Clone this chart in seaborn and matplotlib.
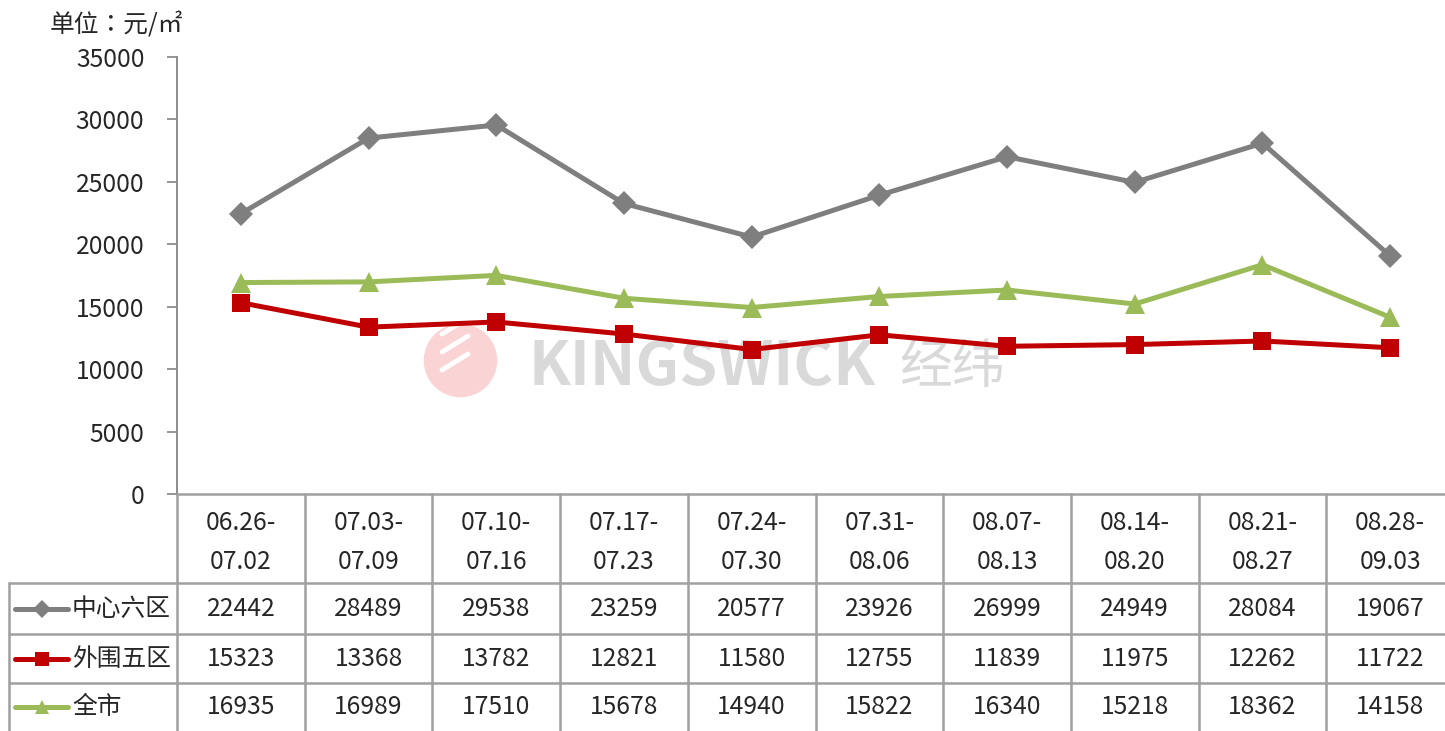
import matplotlib
matplotlib.use("Agg")
import matplotlib.pyplot as plt
import seaborn as sns
import pandas as pd
from matplotlib.lines import Line2D

# data
periods = ["06.26-07.02", "07.03-07.09", "07.10-07.16", "07.17-07.23", "07.24-07.30",
           "07.31-08.06", "08.07-08.13", "08.14-08.20", "08.21-08.27", "08.28-09.03"]
center6 = [22442, 28489, 29538, 23259, 20577, 23926, 26999, 24949, 28084, 19067]
outer5 = [15323, 13368, 13782, 12821, 11580, 12755, 11839, 11975, 12262, 11722]
city = [16935, 16989, 17510, 15678, 14940, 15822, 16340, 15218, 18362, 14158]
series_names = ["中心六区", "外围五区", "全市"]
yticks = [0, 5000, 10000, 15000, 20000, 25000, 30000, 35000]

colors = ["#7F7F7F", "#C00000", "#9BBB59"]
markers = ["D", "s", "^"]
msizes = [12, 13, 14]

sns.set_style("white")
plt.rcParams["font.family"] = ["Noto Sans CJK SC", "DejaVu Sans"]
FS = 17.8

fig = plt.figure(figsize=(14.45, 7.31), dpi=100)
ax = fig.add_axes([177 / 1445, 1 - 494.3 / 731, 1277 / 1445, 437.6 / 731])
ax.patch.set_visible(False)

# watermark
ax.text(0.486, 0.497, "KINGSWICK", transform=fig.transFigure, fontsize=44, fontweight="bold",
        color="#D9D9D9", ha="center", va="center", zorder=0)
ax.text(0.622, 0.497, "经纬", transform=fig.transFigure, fontsize=38,
        color="#D9D9D9", ha="left", va="center", zorder=0)
fig.add_artist(Line2D([460 / 1445], [1 - 360 / 731], marker="o", markersize=53,
                      color="#FAD4D4", markeredgewidth=0, transform=fig.transFigure, zorder=0))
for dy in (-18, 0, 18):
    fig.add_artist(Line2D([442 / 1445, 468 / 1445], [1 - (352 + dy) / 731, 1 - (336 + dy) / 731],
                          color="white", lw=3.5, transform=fig.transFigure, zorder=0))

x = list(range(len(periods)))
df = pd.DataFrame({"x": x, series_names[0]: center6, series_names[1]: outer5, series_names[2]: city})
long = df.melt(id_vars="x", var_name="series", value_name="price")

for name, c, m, ms in zip(series_names, colors, markers, msizes):
    sub = long[long["series"] == name]
    sns.lineplot(data=sub, x="x", y="price", ax=ax, color=c, linewidth=3.6,
                 marker=m, markersize=ms, markeredgewidth=0, zorder=3, legend=False)

ax.set_xlim(-0.5, len(periods) - 0.5)
ax.set_ylim(0, 35000)
ax.set_yticks(yticks)
ax.set_yticklabels([str(v) for v in yticks], fontsize=FS)
ax.set_xticks([])
ax.set_xlabel("")
ax.set_ylabel("")
ax.tick_params(axis="y", direction="out", length=7.5, width=1.3, color="#8C8C8C", pad=16, left=True)
for s in ["top", "right"]:
    ax.spines[s].set_visible(False)
ax.spines["left"].set_color("#8C8C8C")
ax.spines["left"].set_linewidth(1.4)
ax.spines["bottom"].set_color("#A0A0A0")
ax.spines["bottom"].set_linewidth(1.8)

# data table under the chart
tr = ax.get_xaxis_transform()
grid = "#A0A0A0"
lw = 1.8
row_y = [-0.2034, -0.3199, -0.4319]
bottom = -0.545
left_edge = -1.816
for yy in row_y:
    ax.plot([left_edge, len(periods) - 0.5], [yy, yy], transform=tr, color=grid, lw=lw, clip_on=False)
for i in range(len(periods) + 1):
    ax.plot([i - 0.5, i - 0.5], [0, bottom], transform=tr, color=grid, lw=lw, clip_on=False)
ax.plot([left_edge, left_edge], [row_y[0], bottom], transform=tr, color=grid, lw=lw, clip_on=False)

for i, p in enumerate(periods):
    a, b = p.split("-")
    ax.text(i, -0.066, a + "-", transform=tr, ha="center", va="center", fontsize=FS)
    ax.text(i, -0.155, b, transform=tr, ha="center", va="center", fontsize=FS)

row_centers = [-0.2617, -0.3759, -0.4865]
for vals, yc in zip([center6, outer5, city], row_centers):
    for i, v in enumerate(vals):
        ax.text(i, yc, str(v), transform=tr, ha="center", va="center", fontsize=FS)

for name, c, m, ms, yc in zip(series_names, colors, markers, msizes, row_centers):
    ax.plot([-1.769, -1.354], [yc, yc], transform=tr, color=c, lw=3.6, clip_on=False)
    ax.plot([-1.561], [yc], transform=tr, color=c, marker=m, markersize=ms * 0.75,
            markeredgewidth=0, clip_on=False)
    ax.text(-1.322, yc, name, transform=tr, ha="left", va="center", fontsize=FS)

fig.text(50 / 1445, 1 - 25 / 731, "单位：元/㎡", fontsize=FS, ha="left", va="center",
         family=["Noto Sans CJK TC", "DejaVu Sans"])

fig.savefig("out.png", dpi=100)
